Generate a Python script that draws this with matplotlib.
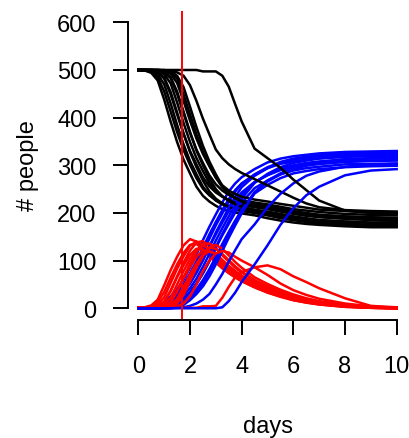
import matplotlib
matplotlib.use('Agg')
import matplotlib.pyplot as plt

plt.rcParams['font.family'] = ['Liberation Sans', 'DejaVu Sans']

# time grid (days)
days = [0, 0.25, 0.5, 0.75, 1, 1.25, 1.5, 1.75, 2, 2.25, 2.5, 2.75, 3, 3.25,
        3.5, 3.75, 4, 4.5, 5, 5.5, 6, 6.5, 7, 8, 9, 10]

x_ticks = [0, 2, 4, 6, 8, 10]
y_ticks = [0, 100, 200, 300, 400, 500, 600]
intervention_day = 1.7

# susceptible (black), one list per simulation run
s01 = [500, 499, 494, 478, 438, 392, 349, 312, 283, 255, 236, 224, 215, 208, 204, 201, 199, 195, 189, 184, 180, 177, 175, 172, 170, 170]
s02 = [500, 499, 496, 485, 455, 413, 370, 332, 301, 273, 251, 237, 227, 220, 215, 211, 209, 205, 200, 195, 190, 187, 185, 182, 180, 180]
s03 = [500, 500, 498, 491, 470, 430, 385, 344, 309, 281, 255, 238, 226, 218, 212, 208, 205, 201, 196, 191, 186, 183, 181, 178, 175, 175]
s04 = [500, 500, 499, 495, 482, 449, 407, 366, 330, 302, 275, 256, 243, 234, 227, 223, 220, 216, 211, 206, 202, 198, 196, 193, 191, 190]
s05 = [500, 500, 499, 496, 484, 454, 411, 367, 328, 296, 268, 245, 230, 220, 213, 207, 204, 200, 195, 189, 185, 181, 178, 175, 173, 172]
s06 = [500, 500, 500, 498, 491, 472, 432, 389, 349, 315, 288, 263, 246, 235, 227, 221, 217, 212, 208, 203, 198, 194, 191, 188, 186, 185]
s07 = [500, 500, 500, 499, 495, 483, 450, 409, 368, 333, 305, 279, 260, 247, 238, 231, 227, 222, 218, 213, 208, 205, 202, 198, 196, 195]
s08 = [500, 500, 500, 499, 496, 485, 455, 413, 370, 331, 300, 272, 250, 235, 225, 218, 213, 207, 203, 198, 193, 189, 185, 182, 179, 178]
s09 = [500, 500, 500, 500, 498, 492, 473, 435, 394, 356, 324, 298, 274, 258, 247, 240, 234, 228, 224, 219, 215, 211, 207, 204, 201, 200]
s10 = [500, 500, 500, 500, 499, 495, 482, 449, 407, 365, 329, 300, 274, 254, 241, 232, 225, 218, 214, 209, 204, 200, 196, 192, 190, 188]
s11 = [500, 500, 500, 500, 500, 497, 488, 464, 423, 380, 341, 308, 281, 257, 242, 231, 224, 215, 210, 206, 200, 196, 192, 188, 185, 183]
s12 = [500, 500, 500, 500, 499, 498, 495, 488, 468, 435, 398, 365, 333, 315, 302, 292, 284, 271, 258, 245, 232, 220, 212, 206, 204, 203]
s13 = [500, 500, 500, 500, 500, 500, 500, 500, 500, 500, 497, 497, 497, 488, 465, 428, 392, 335, 315, 295, 270, 248, 226, 205, 200, 199]

# infected (red)
i01 = [1, 2, 6, 18, 48, 80, 108, 132, 145, 140, 125, 110, 96, 84, 74, 65, 57, 44, 33, 24, 17, 12, 8, 3, 1, 0]
i02 = [1, 2, 4, 13, 34, 64, 92, 116, 133, 135, 124, 110, 97, 84, 74, 65, 57, 44, 33, 25, 17, 12, 8, 3, 1, 0]
i03 = [1, 1, 3, 8, 23, 53, 83, 109, 131, 140, 133, 118, 104, 91, 80, 70, 61, 48, 36, 27, 19, 14, 9, 4, 1, 0]
i04 = [1, 1, 2, 5, 14, 37, 65, 90, 112, 125, 124, 113, 99, 87, 76, 67, 59, 46, 35, 26, 19, 13, 9, 4, 1, 0]
i05 = [1, 1, 2, 4, 13, 36, 67, 96, 121, 138, 141, 130, 115, 101, 88, 77, 68, 53, 40, 30, 22, 15, 11, 5, 2, 0]
i06 = [1, 1, 1, 3, 8, 22, 50, 78, 103, 122, 131, 125, 111, 98, 85, 75, 66, 51, 39, 29, 21, 15, 11, 5, 2, 0]
i07 = [1, 1, 1, 2, 4, 13, 36, 63, 87, 108, 121, 120, 109, 96, 84, 73, 65, 50, 39, 29, 21, 15, 11, 5, 2, 0]
i08 = [1, 1, 1, 2, 4, 13, 35, 65, 93, 118, 134, 136, 126, 111, 98, 85, 75, 58, 45, 34, 25, 18, 12, 6, 2, 1]
i09 = [1, 1, 1, 1, 2, 7, 20, 45, 71, 94, 112, 120, 114, 101, 89, 78, 68, 53, 41, 31, 23, 16, 12, 5, 2, 1]
i10 = [1, 1, 1, 1, 2, 5, 14, 37, 66, 91, 113, 127, 125, 114, 101, 88, 77, 59, 46, 35, 26, 19, 13, 6, 2, 1]
i11 = [1, 1, 1, 1, 1, 3, 10, 28, 57, 85, 109, 128, 133, 125, 111, 97, 85, 65, 51, 39, 29, 21, 15, 7, 3, 1]
i12 = [1, 1, 1, 1, 1, 2, 4, 10, 25, 50, 78, 100, 115, 120, 117, 108, 100, 86, 70, 52, 38, 28, 20, 10, 4, 1]
i13 = [1, 1, 1, 1, 1, 1, 1, 1, 1, 1, 4, 4, 5, 22, 45, 65, 76, 86, 90, 82, 67, 55, 42, 21, 5, 2]

# recovered (blue)
r01 = [0, 0, 1, 4, 12, 25, 40, 60, 85, 113, 143, 171, 197, 222, 245, 262, 275, 292, 306, 314, 319, 322, 325, 328, 329, 330]
r02 = [0, 0, 1, 3, 9, 19, 33, 50, 73, 99, 127, 155, 181, 206, 229, 248, 262, 280, 294, 303, 308, 312, 315, 318, 319, 320]
r03 = [0, 0, 0, 2, 6, 14, 28, 43, 64, 89, 117, 146, 174, 199, 223, 245, 261, 281, 296, 306, 312, 316, 319, 322, 324, 325]
r04 = [0, 0, 0, 1, 3, 10, 21, 35, 53, 75, 101, 129, 155, 180, 204, 226, 243, 265, 279, 290, 297, 301, 303, 307, 309, 310]
r05 = [0, 0, 0, 1, 3, 9, 20, 34, 52, 75, 101, 130, 159, 185, 211, 234, 254, 278, 294, 307, 314, 318, 321, 325, 327, 328]
r06 = [0, 0, 0, 0, 2, 5, 14, 27, 42, 62, 87, 114, 142, 168, 193, 216, 237, 264, 280, 293, 300, 305, 308, 312, 314, 315]
r07 = [0, 0, 0, 0, 1, 3, 10, 21, 34, 52, 74, 99, 127, 153, 177, 201, 222, 252, 268, 281, 289, 294, 297, 302, 303, 304]
r08 = [0, 0, 0, 0, 1, 3, 9, 19, 33, 51, 73, 99, 128, 156, 182, 207, 230, 263, 282, 296, 305, 310, 314, 318, 321, 322]
r09 = [0, 0, 0, 0, 0, 1, 5, 13, 25, 40, 59, 82, 108, 135, 160, 184, 206, 241, 259, 273, 283, 288, 292, 296, 298, 299]
r10 = [0, 0, 0, 0, 0, 1, 3, 10, 21, 35, 53, 76, 101, 129, 156, 181, 205, 244, 266, 281, 292, 299, 303, 308, 310, 311]
r11 = [0, 0, 0, 0, 0, 0, 2, 7, 17, 30, 46, 67, 92, 120, 148, 174, 199, 242, 268, 283, 296, 303, 307, 313, 315, 316]
r12 = [0, 0, 0, 0, 0, 0, 1, 2, 5, 10, 18, 30, 50, 72, 98, 122, 145, 176, 212, 240, 262, 278, 287, 297, 301, 303]
r13 = [0, 0, 0, 0, 0, 0, 0, 0, 0, 0, 0, 0, 0, 2, 15, 33, 55, 92, 132, 175, 210, 237, 255, 279, 289, 292]

susceptible = [s01, s02, s03, s04, s05, s06, s07, s08, s09, s10, s11, s12, s13]
infected = [i01, i02, i03, i04, i05, i06, i07, i08, i09, i10, i11, i12, i13]
recovered = [r01, r02, r03, r04, r05, r06, r07, r08, r09, r10, r11, r12, r13]

W, H = 410, 439
fig = plt.figure(figsize=(W / 100, H / 100), dpi=100)
ax = fig.add_axes([128.0 / W, (H - 320.7) / H, 279.0 / W, 308.8 / H])

lw = 1.8
for s, i, r in zip(susceptible, infected, recovered):
    ax.plot(days, s, color='black', lw=lw)
    ax.plot(days, i, color='#ff0000', lw=lw)
    ax.plot(days, r, color='#0000ff', lw=lw)

ax.axvline(intervention_day, color='#ff0000', lw=1.4)

ax.set_xlim(-0.4, 10.4)
ax.set_ylim(-24, 624)
ax.set_xticks(x_ticks)
ax.set_yticks(y_ticks)
ax.set_xticklabels([str(v) for v in x_ticks])
ax.set_yticklabels([str(v) for v in y_ticks])
for side in ['top', 'right']:
    ax.spines[side].set_visible(False)
ax.spines['left'].set_bounds(0, 600)
ax.spines['bottom'].set_bounds(0, 10)
for side in ['left', 'bottom']:
    ax.spines[side].set_linewidth(1.4)
ax.tick_params(length=10.5, width=1.4, labelsize=17, colors='black')
ax.tick_params(axis='y', pad=12)
ax.tick_params(axis='x', pad=15)

fig.text(267.5 / W, (H - 433) / H, 'days', ha='center', va='baseline', fontsize=17)
fig.text(28 / W, (H - 166) / H, '# people', rotation=90, ha='center', va='center', fontsize=17)

fig.savefig('out.png', dpi=100)
